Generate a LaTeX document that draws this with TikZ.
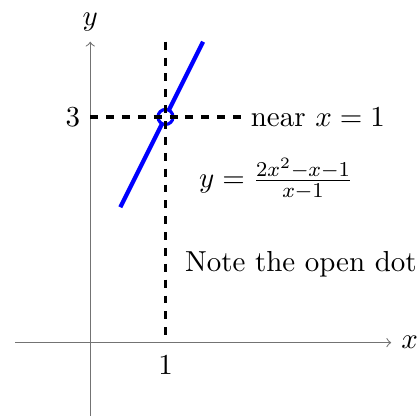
\documentclass[11pt,tikz,border=0pt]{standalone}
\usepackage{amsmath,amssymb}
\usepackage{tikz}
\usetikzlibrary{arrows, calc, positioning}
\tikzset{axis/.style={draw,black!55,->},
    axis label/.style={text=black},
    guide/.style={draw,very thick,dashed,black},
    graph line/.style={draw,blue,ultra thick},
    open dot/.style={circle,draw=blue,very thick,fill=white,minimum size=2mm,inner sep=0pt}}

\begin{document}
\begin{tikzpicture}

  \useasboundingbox (-1.2,-0.97) rectangle (4.37,4.555);

  % First we draw the axes
  \coordinate (xmin) at (-1,0);
  \coordinate (xmax) at (4,0);
  \coordinate (ymin) at (0,-1);
  \coordinate (ymax) at (0,4);
  \path[axis] (xmin) -- (xmax) node[right,axis label] (xlabel) {$x$};
  \path[axis] (ymin) -- (ymax) node[above,axis label] (ylabel) {$y$};

  % The graph y = 2x+1 with a hole at x = 1
  \coordinate (start) at (0.4,1.8);
  \coordinate (stop) at (1.5,4);
  \path[graph line] (start) -- (stop);
  \node[open dot] (hole) at (1,3) {};

  % Dashed guides through the hole
  \coordinate (foot) at (1,0);
  \coordinate (top) at (1,4);
  \coordinate (left) at (0,3);
  \coordinate (right) at (2,3);
  \path[guide] (top) -- (foot);
  \path[guide] (left) -- (right);

  % Labels
  \node[left] (three) at (left) {$3$};
  \node[below=0.04] (one) at (foot) {$1$};
  \node[right] (near) at (right) {near $x=1$};
  \node (formula) at (2.47,2.17) {$y=\frac{2x^2-x-1}{x-1}$};
  \node (note) at (2.8,1.04) {Note the open dot};

\end{tikzpicture}
\end{document}
